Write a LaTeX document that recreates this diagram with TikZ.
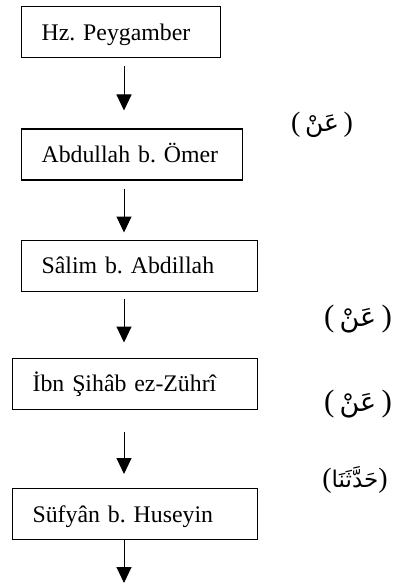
\documentclass[tikz,border=0pt]{standalone}
\usepackage{fontspec}
\setmainfont{Liberation Serif}
\newfontfamily\arabicfont[Script=Arabic]{DejaVu Sans}
\TeXXeTstate=1
\frenchspacing
\usetikzlibrary{arrows.meta}
\newcommand{\arb}[2]{{\arabicfont\fontsize{#1}{28}\selectfont\beginR #2\endR}}
\begin{document}
\begin{tikzpicture}[x=1pt,y=-1pt,
  box/.style={draw, line width=1.2pt, text width=#1, align=left, inner xsep=20pt, inner ysep=0pt,
    minimum height=51pt, text height=16pt, text depth=0pt, anchor=north west,
    font=\fontsize{23.8}{28}\selectfont},
  arr/.style={line width=1pt, -{Triangle[length=16pt,width=15pt]}},
  lab/.style={inner sep=0pt, font=\fontsize{#1}{28}\selectfont}]
\useasboundingbox (0,0) rectangle (395,585);
\node[box=159pt] (b1) at (21,6) {Hz. Peygamber};
\node[box=181pt] (b2) at (21,128.5) {Abdullah b. Ömer};
\node[box=196pt] (b3) at (21,239.5) {Sâlim b. Abdillah};
\node[box=205pt] (b4) at (12,357.5) {İbn Şihâb ez-Zührî};
\node[box=205pt] (b5) at (12,488) {Süfyân b. Huseyin};
\coordinate (ax) at (124,0);
\coordinate (tail) at (124,583);
\draw[arr, shorten <=8pt, shorten >=18pt] (b1.south -| ax) -- (b2.north -| ax);
\draw[arr, shorten <=8pt, shorten >=7pt] (b2.south -| ax) -- (b3.north -| ax);
\draw[arr, shorten <=7pt, shorten >=15pt] (b3.south -| ax) -- (b4.north -| ax);
\draw[arr, shorten <=22pt, shorten >=14pt] (b4.south -| ax) -- (b5.north -| ax);
\draw[arr] (b5.south -| ax) -- (tail);
\node[lab=28] (l1) at (322,125) {(\,\arb{25}{عَنْ}\,)};
\node[lab=31] (l2) at (358,319) {(\,\arb{27}{عَنْ}\,)};
\node[lab=31] (l3) at (358,404) {(\,\arb{27}{عَنْ}\,)};
\node[lab=28] (l4) at (355,480) {(\arb{23}{حَدَّثَنَا})};
\end{tikzpicture}
\end{document}
